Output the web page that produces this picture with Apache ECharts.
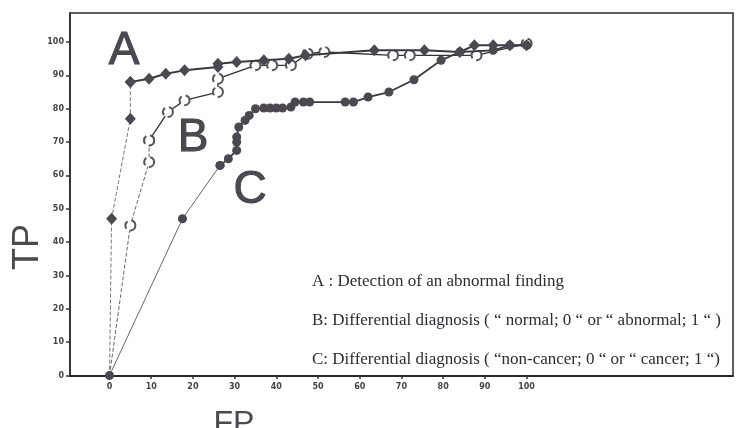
<!DOCTYPE html>
<html><head><meta charset="utf-8">
<script src="https://cdn.jsdelivr.net/npm/echarts@6/dist/echarts.min.js"></script>
<style>html,body{margin:0;padding:0;background:#fff}#c{width:737px;height:428px}</style>
</head><body><div id="c"></div>
<script>
// FP / TP values
var A_fp = [0, 0.5, 5, 5, 9.5, 13.5, 18, 26, 26, 30.5, 37, 43, 47, 63.5, 75.5, 84, 87.5, 92, 96, 100];
var A_tp = [0, 47, 77, 88, 89, 90.5, 91.5, 92.5, 93.5, 94, 94.5, 95, 96, 97.5, 97.5, 97, 99, 99, 99, 99];
var B_fp = [0, 5, 9.5, 9.5, 14, 18, 26, 26, 35, 39, 43.5, 47.5, 51.5, 68, 72, 88, 100];
var B_tp = [0, 45, 64, 70.5, 79, 82.5, 85, 89, 93, 93, 93, 96.5, 97, 96, 96, 96, 99.5];
var C_fp = [0, 17.5, 26.5, 28.5, 30.5, 30.5, 30.5, 31, 32.5, 33.5, 35, 37, 38.5, 40, 41.5, 43.5, 44.5, 46.5, 48, 56.5, 58.5, 62, 67, 73, 79.5, 84, 92, 96, 100];
var C_tp = [0, 47, 63, 65, 67.5, 70, 71.5, 74.5, 76.5, 78, 80, 80.2, 80.2, 80.2, 80.2, 80.5, 82, 82, 82, 82, 82, 83.5, 85, 88.7, 94.5, 97, 97.5, 99, 99];
var xTicks = [0, 10, 20, 30, 40, 50, 60, 70, 80, 90, 100];
var yTicks = [0, 10, 20, 30, 40, 50, 60, 70, 80, 90, 100];
var legendLines = [
  'A : Detection of an abnormal finding',
  'B: Differential diagnosis ( \u201c normal; 0 \u201c or \u201c abnormal; 1 \u201c )',
  'C: Differential diagnosis ( \u201cnon-cancer; 0 \u201c or \u201c cancer; 1 \u201c)'
];

function pts(xs, ys, from, to, hideOrigin) {
  var out = [];
  for (var i = from; i < to; i++) {
    if (hideOrigin && i === 0) out.push({value: [xs[i], ys[i]], symbol: 'none'});
    else out.push([xs[i], ys[i]]);
  }
  return out;
}
var ink = '#3a3840';
var mark = '#4b4852';
var chart = echarts.init(document.getElementById('c'));
chart.setOption({
  animation: false,
  backgroundColor: '#fff',
  grid: {left: 70, right: 4, top: 13, bottom: 52, show: true, borderColor: '#2a282e', borderWidth: 1.5, containLabel: false, outerBoundsMode: 'none'},
  xAxis: {
    type: 'value', min: -9.47, max: 149.5,
    splitLine: {show: false},
    axisLine: {show: true, onZero: false, lineStyle: {color: '#2a282e', width: 2}},
    axisTick: {show: true, customValues: xTicks, length: 3, lineStyle: {color: '#333', width: 1.5}},
    axisLabel: {customValues: xTicks, margin: 7, fontSize: 8, fontWeight: 'bold', color: '#444', fontFamily: 'DejaVu Sans'}
  },
  yAxis: {
    type: 'value', min: -0.15, max: 108.7,
    splitLine: {show: false},
    axisLine: {show: true, onZero: false, lineStyle: {color: '#2a282e', width: 1.5}},
    axisTick: {show: true, customValues: yTicks, length: 4, lineStyle: {color: '#333', width: 1.5}},
    axisLabel: {customValues: yTicks, margin: 6, fontSize: 8, fontWeight: 'bold', color: '#444', fontFamily: 'DejaVu Sans'}
  },
  series: [
    {name: 'B low', type: 'line', data: pts(B_fp, B_tp, 0, 4, true), symbol: 'emptyCircle', symbolSize: 10,
     itemStyle: {color: '#555', borderColor: '#555', borderWidth: 1, borderType: 'dashed'},
     lineStyle: {color: '#666', width: 1, type: 'dashed'}, z: 2},
    {name: 'B', type: 'line', data: pts(B_fp, B_tp, 3, B_fp.length), symbol: 'emptyCircle', symbolSize: 10,
     itemStyle: {color: '#555', borderColor: '#555', borderWidth: 1, borderType: 'dashed'},
     lineStyle: {color: '#333', width: 1.3, type: 'solid'}, z: 2},
    {name: 'A low', type: 'line', data: pts(A_fp, A_tp, 0, 4, true), symbol: 'diamond', symbolSize: [11, 12],
     itemStyle: {color: mark}, lineStyle: {color: '#777', width: 1, type: 'dashed'}, z: 3},
    {name: 'A', type: 'line', data: pts(A_fp, A_tp, 3, A_fp.length), symbol: 'diamond', symbolSize: [11, 12],
     itemStyle: {color: mark}, lineStyle: {color: ink, width: 2}, z: 3},
    {name: 'C low', type: 'line', data: pts(C_fp, C_tp, 0, 3), symbol: 'circle', symbolSize: 9,
     itemStyle: {color: mark}, lineStyle: {color: '#666', width: 1}, z: 4},
    {name: 'C', type: 'line', data: pts(C_fp, C_tp, 2, C_fp.length), symbol: 'circle', symbolSize: 9,
     itemStyle: {color: mark}, lineStyle: {color: ink, width: 1.8}, z: 4}
  ],
  graphic: [
    {type: 'text', x: 124, y: 51, style: {text: 'A', font: '46px "Liberation Sans", Arial, sans-serif', fill: '#4a4850', stroke: '#3a3840', lineWidth: 1, align: 'center', verticalAlign: 'middle'}},
    {type: 'text', x: 193, y: 138, style: {text: 'B', font: '46px "Liberation Sans", Arial, sans-serif', fill: '#4a4850', stroke: '#3a3840', lineWidth: 1, align: 'center', verticalAlign: 'middle'}},
    {type: 'text', x: 250, y: 190, style: {text: 'C', font: '46px "Liberation Sans", Arial, sans-serif', fill: '#4a4850', stroke: '#3a3840', lineWidth: 1, align: 'center', verticalAlign: 'middle'}},
    {type: 'text', x: 28, y: 247, rotation: Math.PI / 2, style: {text: 'TP', font: '36px "Liberation Sans", Arial, sans-serif', fill: '#4a4850', align: 'center', verticalAlign: 'middle'}},
    {type: 'text', x: 234, y: 424, style: {text: 'FP', font: '32px "Liberation Sans", Arial, sans-serif', fill: '#4a4850', align: 'center', verticalAlign: 'middle'}},
    {type: 'text', x: 312, y: 282, style: {text: legendLines[0], font: '17px "Liberation Serif", serif', fill: '#2e2c33', align: 'left', verticalAlign: 'middle'}},
    {type: 'text', x: 312, y: 321, style: {text: legendLines[1], font: '17px "Liberation Serif", serif', fill: '#2e2c33', align: 'left', verticalAlign: 'middle'}},
    {type: 'text', x: 312, y: 360, style: {text: legendLines[2], font: '17px "Liberation Serif", serif', fill: '#2e2c33', align: 'left', verticalAlign: 'middle'}}
  ]
});
</script></body></html>
